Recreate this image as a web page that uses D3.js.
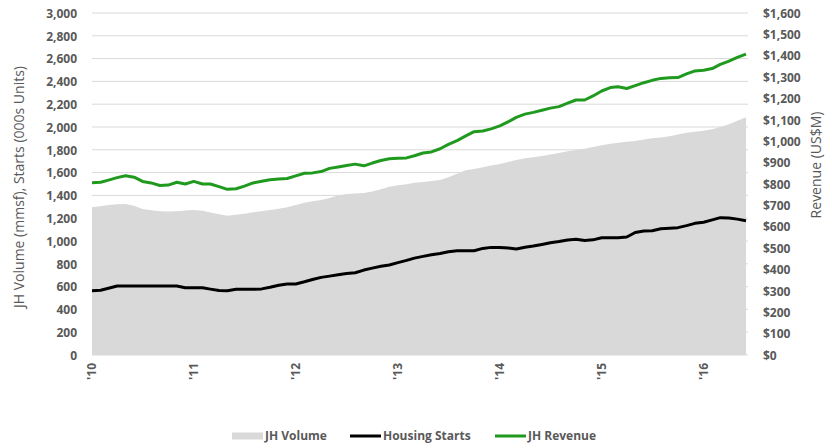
<!DOCTYPE html>
<html>
<head>
<meta charset="utf-8">
<script src="https://cdn.jsdelivr.net/npm/d3@7"></script>
<style>
  body { margin: 0; background: #fff; }
  text { font-family: "Open Sans", "Liberation Sans", sans-serif; fill: #595959; }
</style>
</head>
<body>
<div id="chart"></div>
<script>
// monthly, Jan 2010 - Jun 2016
var volume = [1296,1305,1315,1322,1325,1310,1280,1270,1260,1258,1262,1268,
  1272,1265,1250,1235,1222,1230,1240,1252,1262,1272,1283,1296,
  1315,1336,1348,1360,1378,1400,1412,1416,1422,1435,1455,1475,
  1488,1498,1510,1518,1527,1535,1560,1590,1620,1632,1648,1662,
  1676,1692,1710,1725,1735,1745,1758,1772,1788,1798,1810,1825,
  1840,1852,1862,1870,1878,1890,1901,1908,1918,1935,1950,1958,
  1968,1980,2000,2025,2055,2085];
var starts = [564,568,585,605,605,605,605,605,605,605,605,590,
  590,590,578,566,564,576,576,576,580,594,612,623,
  623,642,662,681,692,703,714,722,745,762,778,790,
  810,830,850,865,880,890,905,915,915,915,935,944,
  944,938,930,945,956,970,985,995,1008,1015,1005,1010,
  1029,1029,1029,1035,1075,1088,1090,1108,1112,1117,1135,1155,
  1165,1185,1205,1202,1192,1178];
var revenue = [806,808,818,830,839,832,812,805,793,795,808,800,
  812,800,800,788,775,778,790,805,813,820,823,826,
  838,850,852,858,873,880,887,893,885,898,910,918,
  921,922,932,945,950,965,985,1003,1025,1045,1048,1058,
  1072,1092,1112,1127,1135,1145,1155,1162,1178,1193,1193,1212,
  1235,1251,1255,1247,1260,1274,1285,1294,1297,1298,1315,1329,
  1332,1340,1360,1375,1392,1408];
var yearLabels = ["'10","'11","'12","'13","'14","'15","'16"];
var leftTicks = d3.range(0, 3001, 200);
var rightTicks = d3.range(0, 1601, 100);

var width = 832, height = 448;
var margin = {left: 92, right: 86, top: 13, bottom: 93};

var months = volume.map(function(v, i){ return new Date(2010, i, 1); });

var svg = d3.select("#chart").append("svg")
  .attr("width", width).attr("height", height);

var x = d3.scaleTime()
  .domain([months[0], months[months.length - 1]])
  .range([margin.left, width - margin.right]);
var yL = d3.scaleLinear().domain([0, 3000]).range([height - margin.bottom, margin.top]);
var yR = d3.scaleLinear().domain([0, 1600]).range([height - margin.bottom, margin.top]);

// gridlines
svg.append("g").selectAll("line")
  .data(leftTicks)
  .enter().append("line")
  .attr("x1", margin.left).attr("x2", width - margin.right + 2)
  .attr("y1", function(d){ return yL(d); })
  .attr("y2", function(d){ return yL(d); })
  .attr("stroke", "#d9d9d9")
  .attr("stroke-width", 1);

// volume area
var area = d3.area()
  .x(function(d, i){ return x(months[i]); })
  .y0(yL(0))
  .y1(function(d){ return yL(d); });
svg.append("path")
  .attr("d", area(volume))
  .attr("fill", "#d9d9d9");

var lineL = d3.line()
  .x(function(d, i){ return x(months[i]); })
  .y(function(d){ return yL(d); });
var lineR = d3.line()
  .x(function(d, i){ return x(months[i]); })
  .y(function(d){ return yR(d); });

svg.append("path")
  .attr("d", lineL(starts))
  .attr("fill", "none")
  .attr("stroke", "#000")
  .attr("stroke-width", 3)
  .attr("stroke-linejoin", "round");

svg.append("path")
  .attr("d", lineR(revenue))
  .attr("fill", "none")
  .attr("stroke", "#1f9a1f")
  .attr("stroke-width", 3)
  .attr("stroke-linejoin", "round");

// left axis
var axL = svg.append("g")
  .attr("transform", "translate(" + (margin.left - 12) + ",0)")
  .call(d3.axisLeft(yL).tickValues(leftTicks).tickFormat(d3.format(",")).tickSize(0));
axL.select(".domain").remove();
axL.selectAll("text").style("font-size", "12px").style("font-weight", "bold").attr("dy", "0.35em");

// right axis
var axR = svg.append("g")
  .attr("transform", "translate(" + (width - margin.right + 14) + ",0)")
  .call(d3.axisRight(yR).tickValues(rightTicks).tickFormat(function(d){ return "$" + d3.format(",")(d); }).tickSize(0));
axR.select(".domain").remove();
axR.selectAll("text").style("font-size", "12px").style("font-weight", "bold").attr("dy", "0.35em");

// x axis year labels
var years = yearLabels.map(function(d, i){ return new Date(2010 + i, 0, 1); });
svg.append("g").selectAll("text")
  .data(years)
  .enter().append("text")
  .attr("transform", function(d){ return "translate(" + (x(d) + 4) + "," + (height - margin.bottom + 8) + ") rotate(-90)"; })
  .attr("text-anchor", "end")
  .style("font-size", "12px")
  .style("font-weight", "bold")
  .text(function(d, i){ return yearLabels[i]; });

// axis titles
svg.append("text")
  .attr("transform", "translate(24,187) rotate(-90)")
  .attr("text-anchor", "middle")
  .style("font-size", "14px")
  .text("JH Volume (mmsf), Starts (000s Units)");
svg.append("text")
  .attr("transform", "translate(821,165) rotate(-90)")
  .attr("text-anchor", "middle")
  .style("font-size", "14px")
  .text("Revenue (US$M)");

// legend
var legend = [
  {name: "JH Volume", type: "area", color: "#d9d9d9", x: 232},
  {name: "Housing Starts", type: "line", color: "#000", x: 350},
  {name: "JH Revenue", type: "line", color: "#1f9a1f", x: 495}
];
var lg = svg.append("g").selectAll("g").data(legend).enter().append("g")
  .attr("transform", function(d){ return "translate(" + d.x + ",436)"; });
lg.append("rect")
  .attr("x", 0).attr("width", 31)
  .attr("y", function(d){ return d.type == "area" ? -3.5 : -1.5; })
  .attr("height", function(d){ return d.type == "area" ? 7 : 3; })
  .attr("fill", function(d){ return d.color; });
lg.append("text")
  .attr("x", 33).attr("dy", "0.35em")
  .style("font-size", "12px").style("font-weight", "bold")
  .text(function(d){ return d.name; });
</script>
</body>
</html>
